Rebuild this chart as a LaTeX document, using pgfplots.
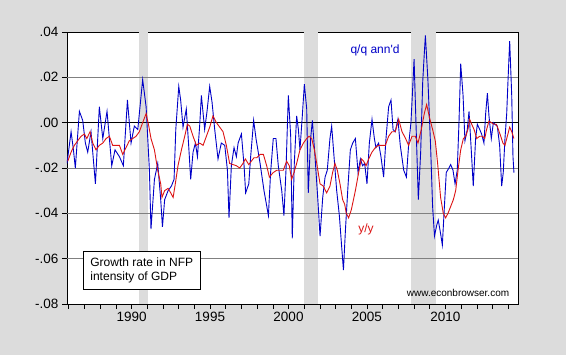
\documentclass[border=0pt]{standalone}
\usepackage{fontspec}
\setmainfont{Liberation Sans}
\usepackage{pgfplots}
\pgfplotsset{compat=1.18}
\definecolor{bgc}{RGB}{220,220,220}
\definecolor{shade}{RGB}{220,220,220}
\definecolor{qblue}{RGB}{0,0,200}
\definecolor{yred}{RGB}{220,20,20}
\definecolor{gridc}{RGB}{128,128,128}
\begin{document}
\begin{tikzpicture}
\fill[bgc] (-67pt,-51pt) rectangle (499pt,304pt);
\begin{axis}[
 at={(0,0)}, anchor=south west,
 scale only axis, width=451pt, height=272pt,
 xmin=1985.89, xmax=2014.62, ymin=-0.08, ymax=0.04,
 axis background/.style={fill=white},
 tick align=outside, tick pos=left,
 scaled y ticks=false, scaled x ticks=false,
 xtick={1990,1995,2000,2005,2010}, xticklabels={1990,1995,2000,2005,2010},
 minor xtick={1986,1987,1988,1989,1991,1992,1993,1994,1996,1997,1998,1999,2001,2002,2003,2004,2006,2007,2008,2009,2011,2012,2013,2014},
 major tick length=5pt, minor tick length=5pt,
 ytick={-0.08,-0.06,-0.04,-0.02,0,0.02,0.04}, yticklabels={-.08,-.06,-.04,-.02,.00,.02,.04},
 axis line style={black, line width=0.8pt},
 tick style={black, line width=0.6pt},
 ticklabel style={font=\fontsize{13.5}{16}\selectfont},
 /pgf/number format/assume math mode=true,
]
% recession shading
\addplot[fill=shade, draw=none, forget plot] coordinates {(1990.45,-0.08) (1990.45,0.04) (1991.04,0.04) (1991.04,-0.08)} -- cycle;
\addplot[fill=shade, draw=none, forget plot] coordinates {(2001.0,-0.08) (2001.0,0.04) (2001.86,0.04) (2001.86,-0.08)} -- cycle;
\addplot[fill=shade, draw=none, forget plot] coordinates {(2007.80,-0.08) (2007.80,0.04) (2009.38,0.04) (2009.38,-0.08)} -- cycle;
% grid lines
\draw[gridc, line width=0.6pt] (axis cs:1985.89,0.02) -- (axis cs:2014.62,0.02);
\draw[gridc, line width=0.6pt] (axis cs:1985.89,-0.02) -- (axis cs:2014.62,-0.02);
\draw[gridc, line width=0.6pt] (axis cs:1985.89,-0.04) -- (axis cs:2014.62,-0.04);
\draw[gridc, line width=0.6pt] (axis cs:1985.89,-0.06) -- (axis cs:2014.62,-0.06);
\draw[black, line width=0.8pt] (axis cs:1985.89,0) -- (axis cs:2014.62,0);

% q/q annualized (blue)
\addplot[qblue, line width=0.9pt] table {
x y
1985.89 -0.018
1986.15 -0.004
1986.30 -0.012
1986.42 -0.020
1986.68 0.005
1986.89 0.001
1987.06 -0.009
1987.21 -0.013
1987.42 -0.004
1987.70 -0.027
1987.95 0.007
1988.17 -0.007
1988.44 0.005
1988.74 -0.019
1988.95 -0.012
1989.23 -0.015
1989.48 -0.019
1989.74 0.010
1989.97 -0.009
1990.18 -0.0015
1990.40 -0.003
1990.71 0.019
1990.93 0.007
1991.14 -0.021
1991.24 -0.047
1991.46 -0.025
1991.67 -0.018
1991.86 -0.034
1991.97 -0.046
1992.11 -0.034
1992.33 -0.030
1992.54 -0.028
1992.71 -0.025
1992.82 -0.003
1993.01 0.016
1993.13 0.010
1993.28 -0.002
1993.49 0.006
1993.64 -0.010
1993.77 -0.025
1993.92 -0.013
1994.07 -0.009
1994.20 -0.015
1994.34 -0.0015
1994.45 0.012
1994.66 -0.003
1994.81 0.005
1994.98 0.016
1995.13 0.009
1995.30 -0.003
1995.51 -0.016
1995.72 -0.009
1995.94 -0.010
1996.11 -0.021
1996.21 -0.042
1996.36 -0.019
1996.53 -0.011
1996.68 -0.015
1996.79 -0.009
1997.00 -0.005
1997.17 -0.019
1997.27 -0.031
1997.47 -0.027
1997.59 -0.015
1997.78 0.001
1997.93 -0.007
1998.19 -0.018
1998.44 -0.030
1998.72 -0.041
1998.86 -0.022
1999.03 -0.007
1999.20 -0.007
1999.35 -0.019
1999.57 -0.030
1999.71 -0.041
1999.84 -0.021
1999.99 0.012
2000.14 -0.006
2000.24 -0.051
2000.37 -0.018
2000.52 0.003
2000.63 -0.003
2000.73 -0.012
2000.88 0.003
2001.01 0.017
2001.16 0.006
2001.26 -0.031
2001.41 -0.007
2001.52 0.001
2001.69 -0.015
2001.86 -0.033
2002.01 -0.050
2002.18 -0.033
2002.33 -0.024
2002.47 -0.021
2002.64 -0.007
2002.75 -0.0015
2002.90 -0.015
2003.07 -0.030
2003.24 -0.041
2003.39 -0.055
2003.50 -0.065
2003.63 -0.047
2003.79 -0.028
2003.94 -0.012
2004.09 -0.009
2004.26 -0.007
2004.43 -0.022
2004.58 -0.016
2004.72 -0.019
2004.85 -0.018
2005.00 -0.027
2005.15 -0.009
2005.32 0.0015
2005.47 -0.007
2005.57 -0.011
2005.74 -0.009
2005.89 -0.015
2006.06 -0.024
2006.21 -0.007
2006.38 0.007
2006.53 0.010
2006.66 -0.003
2006.80 -0.004
2006.97 0.0015
2007.12 -0.010
2007.34 -0.021
2007.51 -0.024
2007.65 -0.010
2007.80 0.000
2007.91 0.015
2008.00 0.028
2008.12 0.000
2008.27 -0.034
2008.42 -0.013
2008.55 0.018
2008.63 0.028
2008.72 0.0385
2008.88 0.019
2009.05 -0.010
2009.18 -0.037
2009.30 -0.050
2009.45 -0.045
2009.54 -0.043
2009.69 -0.049
2009.80 -0.054
2009.90 -0.041
2010.05 -0.022
2010.22 -0.020
2010.33 -0.0185
2010.48 -0.021
2010.61 -0.027
2010.75 -0.021
2010.86 0.000
2010.97 0.026
2011.12 0.012
2011.24 -0.008
2011.39 -0.003
2011.50 0.005
2011.65 -0.013
2011.77 -0.028
2011.92 -0.007
2012.03 -0.0007
2012.18 -0.003
2012.30 -0.005
2012.45 -0.009
2012.56 0.004
2012.67 0.013
2012.77 0.003
2012.92 -0.007
2013.05 0.000
2013.20 -0.001
2013.30 -0.0015
2013.45 -0.010
2013.58 -0.028
2013.68 -0.022
2013.79 -0.007
2013.90 0.004
2013.98 0.018
2014.09 0.036
2014.22 0.012
2014.30 -0.015
2014.36 -0.022
};

% y/y (red)
\addplot[yred, line width=0.9pt] table {
x y
1985.94 -0.017
1986.15 -0.013
1986.36 -0.010
1986.57 -0.008
1986.79 -0.006
1987.00 -0.005
1987.15 -0.007
1987.36 -0.004
1987.53 -0.009
1987.74 -0.012
1987.95 -0.010
1988.17 -0.009
1988.38 -0.007
1988.59 -0.006
1988.80 -0.010
1989.02 -0.010
1989.23 -0.010
1989.44 -0.014
1989.65 -0.011
1989.86 -0.008
1990.08 -0.007
1990.29 -0.006
1990.50 -0.004
1990.71 0.000
1990.93 0.004
1991.10 -0.0015
1991.24 -0.007
1991.46 -0.012
1991.67 -0.021
1991.86 -0.027
1991.94 -0.033
1992.11 -0.030
1992.33 -0.029
1992.50 -0.031
1992.65 -0.033
1992.79 -0.027
1992.96 -0.019
1993.18 -0.012
1993.39 -0.006
1993.56 -0.0007
1993.71 -0.0015
1993.92 -0.006
1994.13 -0.010
1994.34 -0.009
1994.56 -0.010
1994.77 -0.006
1994.98 -0.002
1995.19 0.003
1995.41 0.000
1995.62 -0.002
1995.83 -0.004
1996.04 -0.010
1996.25 -0.018
1996.47 -0.0185
1996.68 -0.019
1996.89 -0.020
1997.10 -0.018
1997.25 -0.016
1997.47 -0.0185
1997.63 -0.017
1997.80 -0.0155
1997.97 -0.0155
1998.19 -0.014
1998.40 -0.014
1998.61 -0.019
1998.78 -0.024
1999.03 -0.022
1999.25 -0.021
1999.46 -0.021
1999.67 -0.021
1999.88 -0.017
2000.05 -0.019
2000.20 -0.025
2000.35 -0.022
2000.52 -0.018
2000.73 -0.012
2000.95 -0.009
2001.16 -0.007
2001.31 -0.006
2001.48 -0.007
2001.65 -0.012
2001.80 -0.018
2002.01 -0.027
2002.22 -0.028
2002.43 -0.031
2002.64 -0.028
2002.81 -0.022
2002.96 -0.018
2003.11 -0.021
2003.28 -0.027
2003.45 -0.034
2003.58 -0.036
2003.68 -0.040
2003.83 -0.042
2004.00 -0.0385
2004.26 -0.030
2004.47 -0.022
2004.64 -0.016
2004.79 -0.017
2004.94 -0.019
2005.11 -0.016
2005.32 -0.013
2005.53 -0.011
2005.74 -0.010
2005.96 -0.010
2006.17 -0.010
2006.38 -0.006
2006.59 -0.004
2006.80 -0.004
2007.02 0.0015
2007.23 -0.004
2007.44 -0.0067
2007.65 -0.010
2007.87 -0.006
2008.08 -0.006
2008.25 -0.009
2008.46 -0.003
2008.65 0.004
2008.80 0.008
2008.99 0.002
2009.18 -0.003
2009.35 -0.008
2009.50 -0.018
2009.69 -0.033
2009.86 -0.040
2010.01 -0.042
2010.16 -0.040
2010.33 -0.037
2010.50 -0.034
2010.65 -0.030
2010.80 -0.021
2010.97 -0.012
2011.14 -0.007
2011.29 -0.006
2011.43 -0.003
2011.54 0.0015
2011.67 -0.0007
2011.82 -0.003
2011.99 -0.007
2012.18 -0.006
2012.35 -0.006
2012.50 -0.007
2012.62 -0.003
2012.77 0.0007
2012.92 0.000
2013.09 -0.0007
2013.24 -0.0007
2013.37 -0.003
2013.52 -0.006
2013.66 -0.009
2013.79 -0.010
2013.94 -0.006
2014.09 -0.002
2014.22 -0.004
2014.36 -0.007
};

\node[qblue, font=\fontsize{12}{14}\selectfont] at (axis description cs:0.683,0.934) {q/q ann\textquotesingle d};
\node[yred, font=\fontsize{12}{14}\selectfont] at (axis description cs:0.663,0.276) {y/y};
\node[black, font=\fontsize{10}{12}\selectfont] at (axis description cs:0.867,0.040) {www.econbrowser.com};
\node[draw=black, line width=0.8pt, fill=white, anchor=south west, align=left,
      inner xsep=7pt, inner ysep=5pt, minimum height=38pt,
      font=\fontsize{12}{14.3}\selectfont] at (axis description cs:0.0355,0.0515)
      {Growth rate in NFP\\intensity of GDP};
\end{axis}
\end{tikzpicture}
\end{document}
